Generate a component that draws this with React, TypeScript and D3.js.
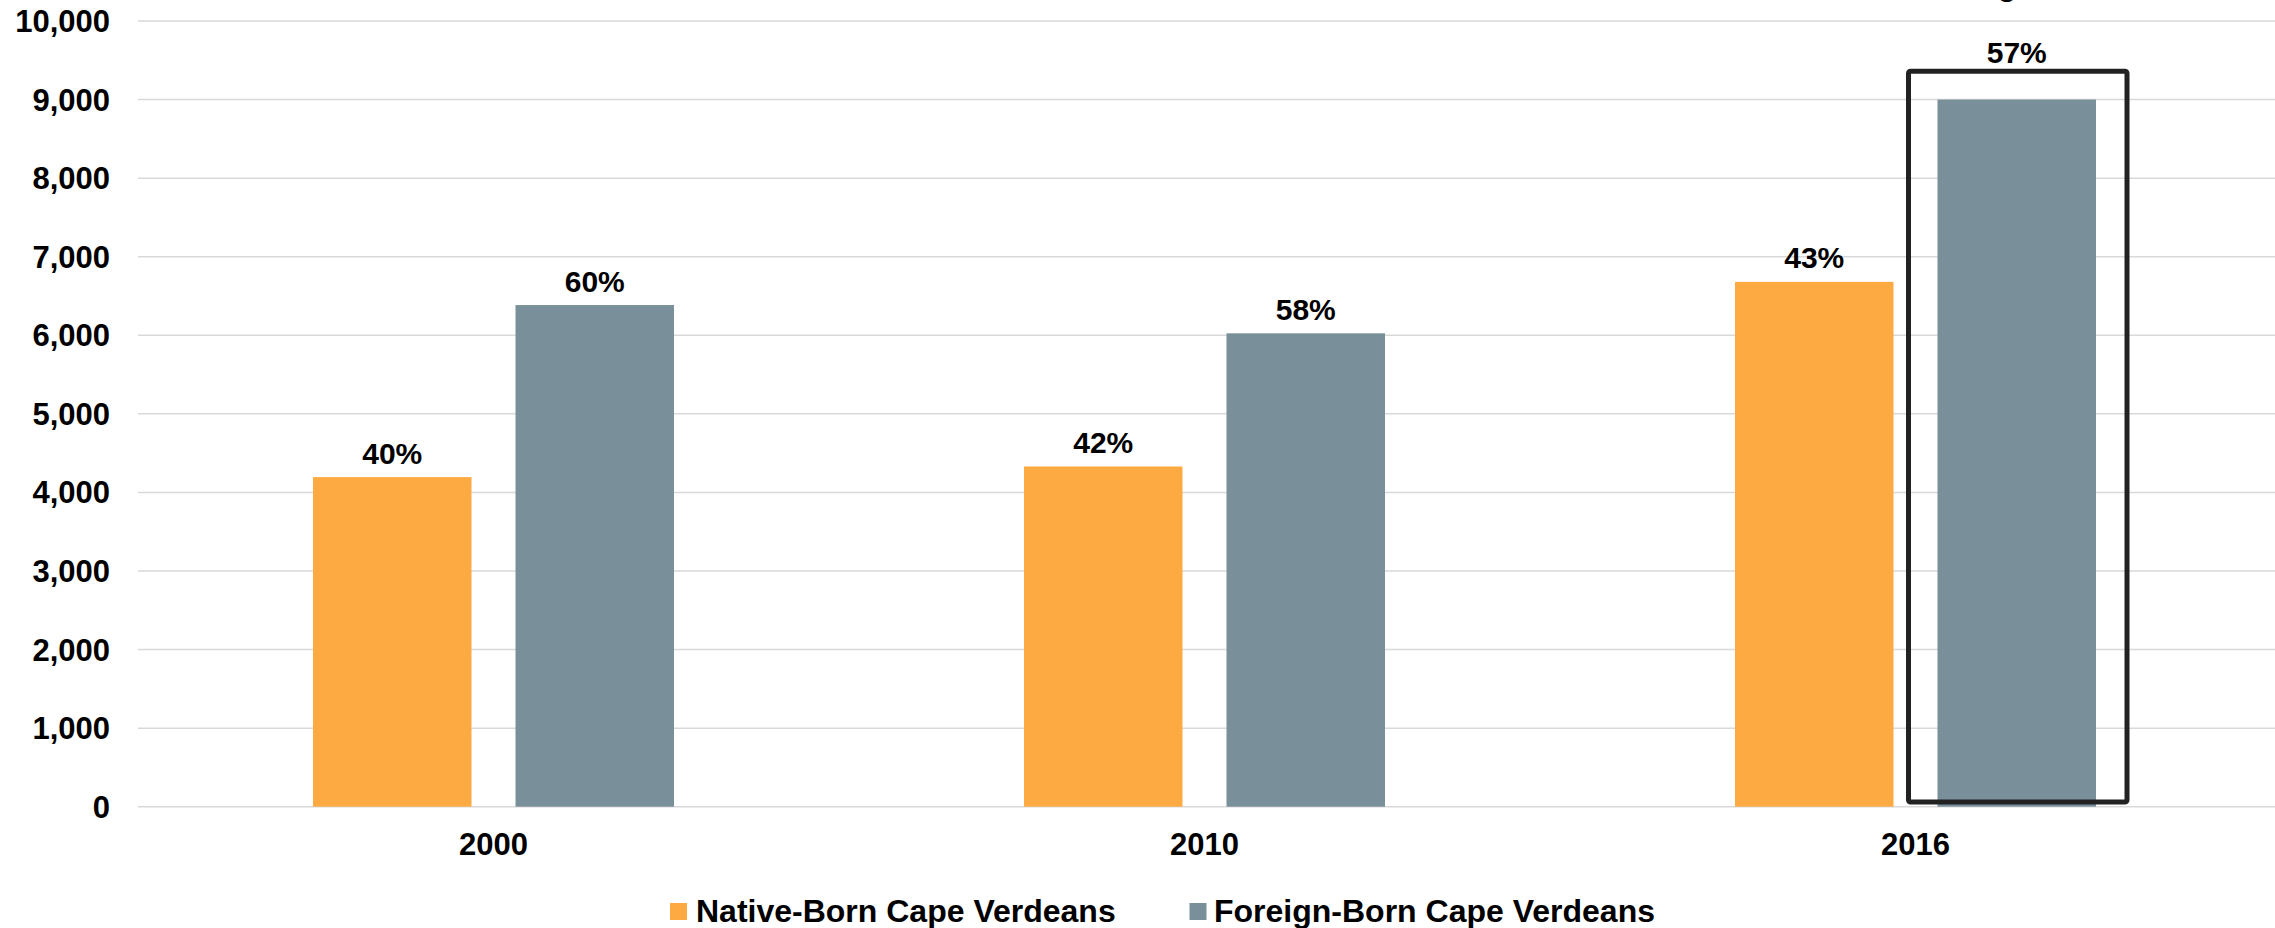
import React from "react";
import * as d3 from "d3";

const years = ["2000", "2010", "2016"];
const seriesNames = ["Native-Born Cape Verdeans", "Foreign-Born Cape Verdeans"];
const nativeBorn = [4195, 4330, 6680];
const foreignBorn = [6385, 6025, 9000];
const nativePct = ["40%", "42%", "43%"];
const foreignPct = ["60%", "58%", "57%"];
const yTicks = [0, 1000, 2000, 3000, 4000, 5000, 6000, 7000, 8000, 9000, 10000];
const highlightYear = "2016";

const W = 2275;
const H = 928;
const colors = ["#FEAA42", "#798F9A"];
const FONT = "'Liberation Sans', Arial, Helvetica, sans-serif";

export default function App() {
  const x0 = d3.scaleBand<string>().domain(years).range([138, 2271]).paddingInner(0).paddingOuter(0);
  const groupW = 361;
  const x1 = d3
    .scaleBand<string>()
    .domain(seriesNames)
    .range([-groupW / 2, groupW / 2])
    .paddingInner(0.2173)
    .paddingOuter(0);
  const y = d3.scaleLinear().domain([0, 10000]).range([806.7, 21]);
  const fmt = d3.format(",");

  const values = [nativeBorn, foreignBorn];
  const pcts = [nativePct, foreignPct];

  const hi = years.indexOf(highlightYear);
  const hiCx = (x0(highlightYear) as number) + x0.bandwidth() / 2;
  const hiX = hiCx + (x1(seriesNames[1]) as number);
  const boxX = hiX - 29;
  const boxR = hiX + x1.bandwidth() + 31;
  const boxTop = y(foreignBorn[hi]) - 28.3;
  const boxBottom = y(0) - 4.7;

  // legend layout
  const legendY = 921.5;
  const legendItems = [
    { sq: 670, tx: 696 },
    { sq: 1189.5, tx: 1214 },
  ];

  return (
    <svg
      width={W}
      height={H}
      viewBox={`0 0 ${W} ${H}`}
      style={{ position: "absolute", left: 0, top: 0, display: "block", background: "#fff" }}
      fontFamily={FONT}
      fontWeight="bold"
    >
      <rect x={0} y={0} width={W} height={H} fill="#ffffff" />
      {/* clipped title fragment */}
      <text x={2007} y={-5} fontSize={31} textAnchor="middle" fill="#000">
        g
      </text>
      {/* gridlines */}
      {yTicks.map((t) => (
        <line key={"g" + t} x1={138} x2={W} y1={y(t)} y2={y(t)} stroke="#D9D9D9" strokeWidth={1.5} />
      ))}
      {/* y tick labels */}
      {yTicks.map((t) => (
        <text key={"t" + t} x={110} y={y(t) + 11} fontSize={31} textAnchor="end" fill="#000">
          {fmt(t)}
        </text>
      ))}
      {/* bars */}
      {years.map((yr, i) => {
        const cx = (x0(yr) as number) + x0.bandwidth() / 2;
        return (
          <g key={yr}>
            {seriesNames.map((s, si) => {
              const v = values[si][i];
              const bx = cx + (x1(s) as number);
              const isHi = yr === highlightYear && si === 1;
              return (
                <g key={s}>
                  <rect x={bx} y={y(v)} width={x1.bandwidth()} height={y(0) - y(v)} fill={colors[si]} />
                  <text
                    x={bx + x1.bandwidth() / 2}
                    y={isHi ? boxTop - 8.5 : y(v) - 13.5}
                    fontSize={30}
                    textAnchor="middle"
                    fill="#000"
                  >
                    {pcts[si][i]}
                  </text>
                </g>
              );
            })}
            <text x={cx} y={855} fontSize={31} textAnchor="middle" fill="#000">
              {yr}
            </text>
          </g>
        );
      })}
      {/* highlight box */}
      <rect
        x={boxX}
        y={boxTop}
        width={boxR - boxX}
        height={boxBottom - boxTop}
        fill="none"
        stroke="#222222"
        strokeWidth={5}
        rx={2}
      />
      {/* legend */}
      {seriesNames.map((s, si) => (
        <g key={"l" + s}>
          <rect x={legendItems[si].sq} y={903} width={17} height={17} fill={colors[si]} />
          <text x={legendItems[si].tx} y={legendY} fontSize={32} fill="#000">
            {s}
          </text>
        </g>
      ))}
    </svg>
  );
}
